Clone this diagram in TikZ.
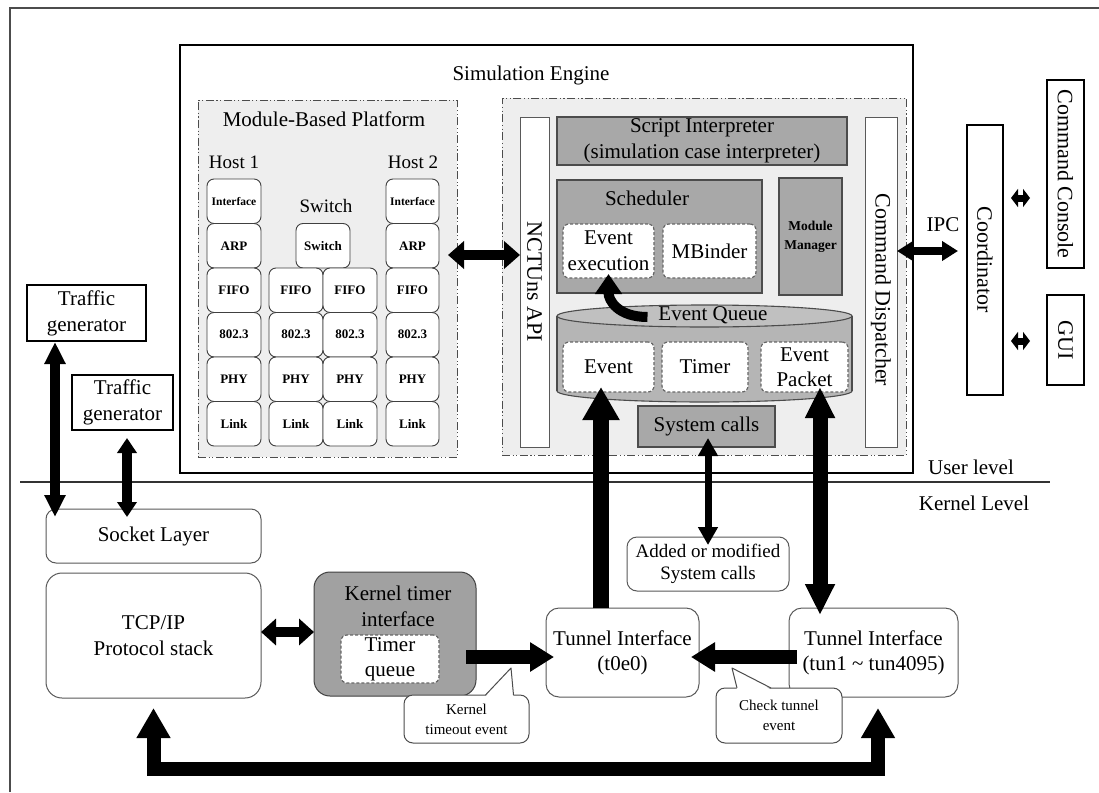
\documentclass[tikz,border=0pt]{standalone}
\usepackage{fontspec}
\setmainfont{Liberation Serif}
\usetikzlibrary{arrows.meta}
\newcommand\setfs[2]{\fontsize{#1}{#2}\selectfont}
\definecolor{panelgray}{gray}{0.935}
\definecolor{boxgray}{gray}{0.66}
\definecolor{timergray}{gray}{0.63}
\definecolor{cylgray}{gray}{0.71}
\definecolor{edge}{gray}{0.3}
\tikzset{
  sz/.style 2 args={minimum width=#1pt, minimum height=#2pt},
  panel/.style={draw=edge, fill=panelgray, line width=1pt,
    dash pattern=on 8pt off 2.5pt on 1.2pt off 2.5pt on 1.2pt off 2.5pt},
  frame/.style={draw=black, fill=white, line width=2.6pt},
  gbox/.style={draw=edge, fill=boxgray, line width=1.3pt},
  dbox/.style={draw=black!60, fill=white, line width=1.2pt, dash pattern=on 3pt off 2pt, rounded corners=6pt},
  mbox/.style={draw=black!75, fill=white, line width=0.9pt, rounded corners=7pt,
    minimum width=54pt, minimum height=44.5pt, font=\bfseries\setfs{13}{15}},
  rbox/.style={draw=black!65, fill=white, line width=1pt, rounded corners=13pt},
  bar/.style={draw=black!65, fill=white, line width=1pt},
  heavy/.style={draw=black, fill=white, line width=2.4pt},
  callout/.style={draw=black!70, fill=white, line width=1pt, rounded corners=9pt, font=\setfs{15}{20}},
  arr/.style n args={3}{draw=black, line width=#1pt, -{Triangle[length=#2pt,width=#3pt]}},
  biarr/.style n args={3}{draw=black, line width=#1pt,
    {Triangle[length=#2pt,width=#3pt]}-{Triangle[length=#2pt,width=#3pt]}},
}
\begin{document}
\begin{tikzpicture}[x=1pt, y=-1pt,
  every node/.style={inner sep=0pt, outer sep=0pt, align=center, font=\setfs{21}{26}}]
\useasboundingbox (0,0) rectangle (1099,792);
\fill[white] (0,0) rectangle (1099,792);
% outer frame
\draw[black!70, line width=1.8pt] (10,792) -- (10,8) -- (1099,8);

% ---------------- user level: simulation engine ----------------
\node[frame, sz={733}{428}] (sim) at (546.5,259) {};
\node (simlab) at (531,75) {Simulation Engine};

\node[panel, sz={259}{357}] (mbp) at (327.5,278.5) {};
\node (mbplab) at (324,119) {Module-Based Platform};
\node[panel, sz={404}{357}] (core) at (704,276.5) {};

% module-based platform: two hosts and a switch
\node[font=\setfs{19}{22}] (h1lab) at (234,162) {Host 1};
\node[font=\setfs{19}{22}] (h2lab) at (413,162) {Host 2};
\node[font=\setfs{19}{22}] (swlab) at (326,206) {Switch};
\node[mbox, font=\bfseries\setfs{11.5}{14}] (hA1) at (234,201.25) {Interface};
\node[mbox, minimum width=53pt, font=\bfseries\setfs{11.5}{14}] (hB1) at (412.5,201.25) {Interface};
\foreach \t [count=\i from 2] in {ARP,FIFO,802.3,PHY,Link} {
  \node[mbox] (hA\i) at (234,156.75+44.5*\i) {\t};
  \node[mbox, minimum width=53pt] (hB\i) at (412.5,156.75+44.5*\i) {\t};
}
\node[mbox] (sw) at (323,245.75) {Switch};
\foreach \t [count=\i from 3] in {FIFO,802.3,PHY,Link} {
  \node[mbox] (sL\i) at (296,156.75+44.5*\i) {\t};
  \node[mbox] (sR\i) at (350,156.75+44.5*\i) {\t};
}

% simulator core
\node[bar, sz={29}{330}] (api) at (534.5,282) {};
\node[rotate=-90, font=\setfs{22}{26}] (apilab) at (api.center) {NCTUns API};
\node[bar, sz={32}{330}] (disp) at (881,282) {};
\node[rotate=-90, font=\setfs{22}{26}] (displab) at ([yshift=-8pt]disp.center) {Command Dispatcher};

\node[gbox, sz={290}{48}] (script) at (702,141) {Script Interpreter\\(simulation case interpreter)};
\node[gbox, sz={205}{113}] (sched) at (659.5,236.5) {};
\node (schedlab) at (647,198) {Scheduler};
\node[dbox, sz={91}{54}] (evexec) at (608.5,251) {Event\\execution};
\node[dbox, sz={93}{54}] (mbinder) at (709.5,251) {MBinder};
\node[gbox, sz={63}{117}, font=\bfseries\setfs{13.5}{19}] (modmgr) at (810.5,236.5) {Module\\Manager};

% event queue cylinder
\filldraw[fill=cylgray, draw=edge, line width=1.1pt] (704.5,391) ellipse [x radius=147.5pt, y radius=11pt];
\fill[cylgray] (557,316) rectangle (852,391);
\draw[edge, line width=1.1pt] (557,316) -- (557,391) (852,316) -- (852,391);
\filldraw[fill=cylgray!85, draw=edge, line width=1.1pt] (704.5,316) ellipse [x radius=147.5pt, y radius=11pt];
\node[sz={295}{97}] (evq) at (704.5,353.5) {};
\node (evqlab) at (713,315) {Event Queue};
\node[dbox, sz={91}{50}] (event) at (608.5,367) {Event};
\node[dbox, sz={86}{50}] (timer) at (705,367) {Timer};
\node[dbox, sz={87}{50}, font=\setfs{21}{25}] (evpkt) at (804.5,367) {Event\\Packet};
\node[gbox, sz={137}{41}] (syscall) at (706.5,426.5) {System calls};

% coordinator and front ends
\node[heavy, sz={36}{270}] (coord) at (985,260) {};
\node[rotate=-90, font=\setfs{22}{26}] (coordlab) at (coord.center) {Coordinator};
\node[heavy, sz={37}{188}] (cmdcon) at (1065.5,174) {};
\node[rotate=-90, font=\setfs{22}{26}] (cmdconlab) at (cmdcon.center) {Command Console};
\node[heavy, sz={37}{90}] (gui) at (1065.5,340) {};
\node[rotate=-90, font=\setfs{22}{26}] (guilab) at (gui.center) {GUI};
\node (ipc) at (943,225) {IPC};

% traffic generators
\node[heavy, sz={119}{56}] (tg1) at (86.5,313) {Traffic\\generator};
\node[heavy, sz={101}{55}] (tg2) at (122.5,402.5) {Traffic\\generator};

% user / kernel boundary
\draw[black!80, line width=1.8pt] (20,482) -- (1050,482);
\node (ulev) at (971,467) {User level};
\node (klev) at (974,503) {Kernel Level};

% ---------------- kernel level ----------------
\node[rbox, sz={215}{54}, rounded corners=10pt] (socket) at (153.5,536) {Socket Layer};
\node[rbox, sz={215}{125}, rounded corners=16pt] (tcp) at (153.5,635.5) {TCP/IP\\Protocol stack};
\node[rbox, sz={162}{124}, fill=timergray, draw=black!75, rounded corners=16pt] (ktimer) at (395,634) {};
\node (ktlab) at (398,606) {Kernel timer\\interface};
\node[dbox, sz={98}{48}, font=\setfs{21}{25}] (tqueue) at (390,659) {Timer\\queue};
\node[rbox, sz={153}{89}, font=\setfs{21}{25}] (t0e0) at (622.5,652.5) {Tunnel Interface\\(t0e0)};
\node[rbox, sz={169}{89}, font=\setfs{21}{25}] (tun) at (873.5,652.5) {Tunnel Interface\\(tun1 \textasciitilde\ tun4095)};
\node[rbox, sz={162}{54}, rounded corners=10pt, font=\setfs{19}{22}] (added) at (708,564) {Added or modified\\System calls};

% callouts
\node[callout, sz={125}{48}] (kto) at (466.5,719) {Kernel\\timeout event};
\coordinate (ktoTip) at (511,668);
\fill[white] ([xshift=19pt,yshift=-1.5pt]kto.north) -- (ktoTip) -- ([xshift=47pt,yshift=-1.5pt]kto.north) -- cycle;
\draw[black!70, line width=1pt, line join=round] ([xshift=19pt]kto.north) -- (ktoTip) -- ([xshift=47pt]kto.north);
\node[callout, sz={126}{55}] (ctun) at (779,715.5) {Check tunnel\\event};
\coordinate (ctunTip) at (732,668);
\fill[white] ([xshift=-42pt,yshift=-1.5pt]ctun.north) -- (ctunTip) -- ([xshift=-8pt,yshift=-1.5pt]ctun.north) -- cycle;
\draw[black!70, line width=1pt, line join=round] ([xshift=-42pt]ctun.north) -- (ctunTip) -- ([xshift=-8pt]ctun.north);

% ---------------- connectors ----------------
\draw[biarr={10}{22}{20}] ([xshift=28pt,yshift=-1pt]tg1.south west) -- ([xshift=9pt,yshift=-8pt]socket.north west);
\draw[biarr={10}{15}{19}] ([xshift=4.5pt,yshift=-8pt]tg2.south) -- ([xshift=81pt,yshift=-8pt]socket.north west);
\draw[biarr={10}{16}{27}] ([xshift=-9pt,yshift=-155pt]mbp.north east) -- ([yshift=-138pt]api.north west);
\draw[biarr={8}{16}{19}] ([yshift=-134pt]disp.north east) -- ([xshift=-9pt,yshift=-126pt]coord.north west);
\coordinate (c1a) at (1011,198); \coordinate (c1b) at (1030,198);
\coordinate (c2a) at (1011,341); \coordinate (c2b) at (1030,341);
\draw[biarr={7}{7}{18}] (c1a) -- (c1b);
\draw[biarr={7}{7}{18}] (c2a) -- (c2b);
\draw[arr={10}{20}{26}] ([xshift=-11pt,yshift=-2pt]evqlab.west) .. controls +(-30,0) and +(0,26) .. ([yshift=4pt]evexec.south);
\draw[biarr={7}{18}{19}] ([xshift=1.5pt,yshift=9pt]syscall.south) -- ([yshift=-8pt]added.north);
\draw[arr={16}{33}{35}] ([xshift=-21.5pt]t0e0.north) -- ([xshift=-7.5pt,yshift=5pt]event.south);
\draw[biarr={15}{31}{28}] ([xshift=15.5pt,yshift=5pt]evpkt.south) -- ([xshift=-53.5pt,yshift=-7pt]tun.north);
\draw[biarr={10}{15}{26}] ([yshift=3.5pt]tcp.east) -- ([yshift=2pt]ktimer.west);
\draw[arr={14}{24}{28}] ([xshift=-10pt,yshift=-23pt]ktimer.east) -- ([xshift=8pt,yshift=-4.5pt]t0e0.west);
\draw[arr={14}{24}{28}] ([xshift=8pt,yshift=-4.5pt]tun.west) -- ([xshift=-8pt,yshift=-4.5pt]t0e0.east);
\coordinate (loopmid) at (500,769);
\draw[biarr={14}{30}{32}, line join=miter] ([yshift=-10pt]tcp.south) |- (loopmid) -| ([xshift=4.5pt,yshift=-11pt]tun.south);
\end{tikzpicture}
\end{document}
